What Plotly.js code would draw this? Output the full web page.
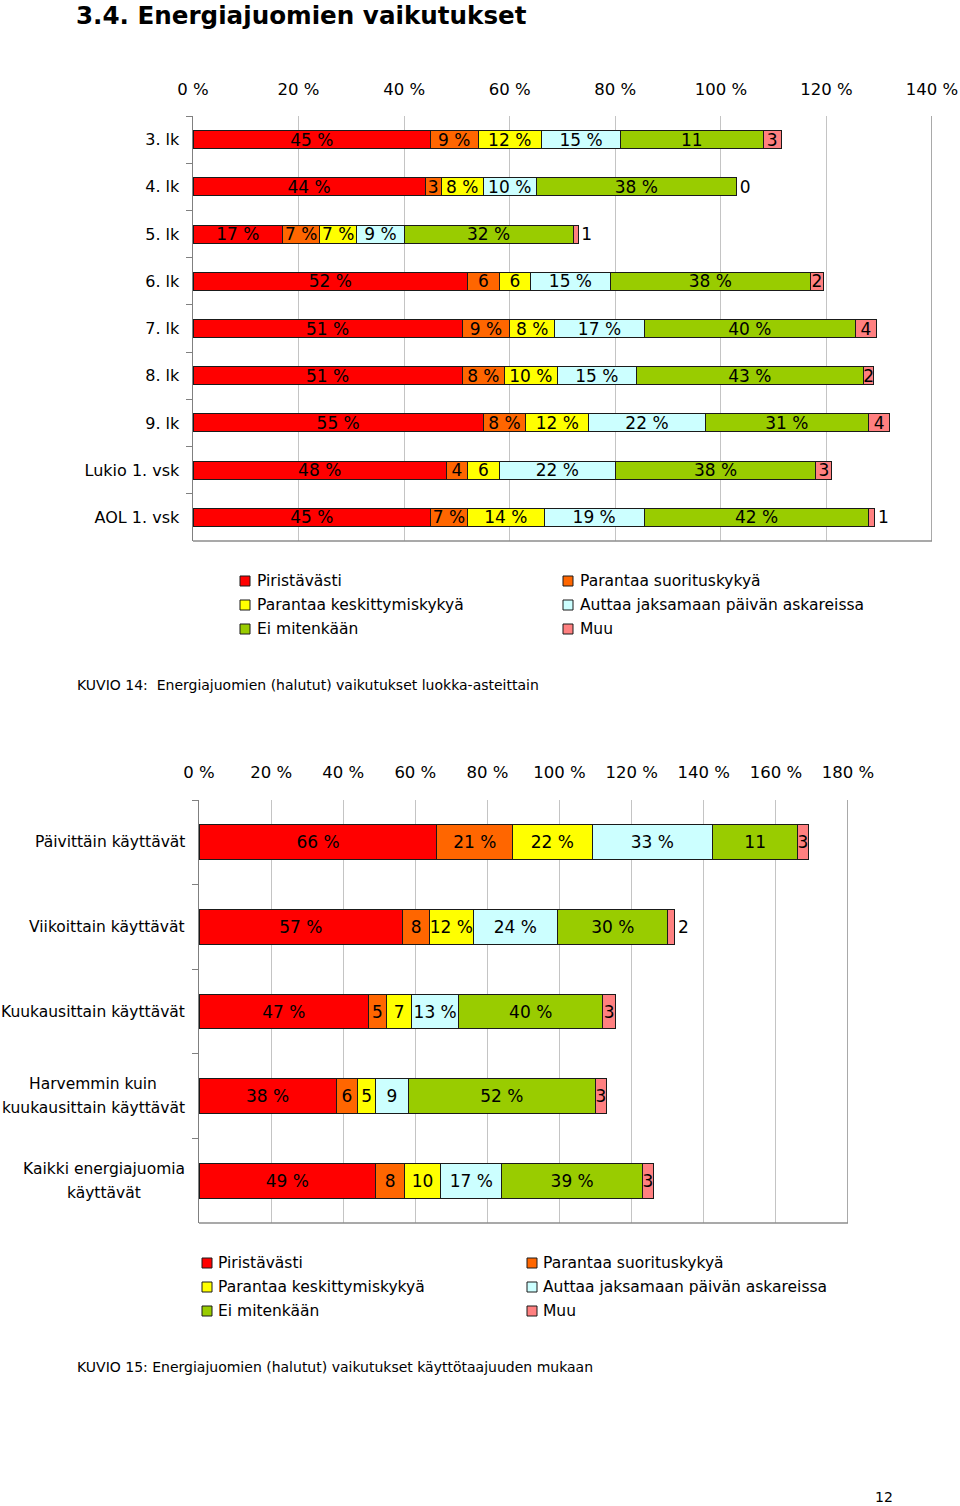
<!DOCTYPE html>
<html>
<head>
<meta charset="utf-8">
<script src="https://cdn.plot.ly/plotly-3.0.1.min.js"></script>
<style>html,body{margin:0;padding:0;background:#fff;}#chart{width:960px;height:1506px;}</style>
</head>
<body>
<div id="chart"></div>
<script>
// ---------- data ----------
const seriesNames = ["Piristävästi", "Parantaa suorituskykyä", "Parantaa keskittymiskykyä",
  "Auttaa jaksamaan päivän askareissa", "Ei mitenkään", "Muu"];
const seriesColors = ["#FF0000", "#FF6600", "#FFFF00", "#CCFFFF", "#99CC00", "#FF8080"];

// Chart 1: by grade
const gradeCats = ["3. lk", "4. lk", "5. lk", "6. lk", "7. lk", "8. lk", "9. lk", "Lukio 1. vsk", "AOL 1. vsk"];
const gradePiristavasti = [45, 44, 17, 52, 51, 51, 55, 48, 45];
const gradeSuorituskyky = [9, 3, 7, 6, 9, 8, 8, 4, 7];
const gradeKeskittyminen = [12, 8, 7, 6, 8.5, 10, 12, 6, 14.5];
const gradeJaksaminen = [15, 10, 9, 15, 17, 15, 22, 22, 19];
const gradeEiMitenkaan = [27, 38, 32, 38, 40, 43, 31, 38, 42.5];
const gradeMuu = [3.4, 0, 1, 2.4, 4, 2, 4, 3, 1.2];
const gradeLabPiristavasti = ["45 %", "44 %", "17 %", "52 %", "51 %", "51 %", "55 %", "48 %", "45 %"];
const gradeLabSuorituskyky = ["9 %", "3", "7 %", "6", "9 %", "8 %", "8 %", "4", "7 %"];
const gradeLabKeskittyminen = ["12 %", "8 %", "7 %", "6", "8 %", "10 %", "12 %", "6", "14 %"];
const gradeLabJaksaminen = ["15 %", "10 %", "9 %", "15 %", "17 %", "15 %", "22 %", "22 %", "19 %"];
const gradeLabEiMitenkaan = ["11", "38 %", "32 %", "38 %", "40 %", "43 %", "31 %", "38 %", "42 %"];
const gradeLabMuu = ["3", "0", "1", "2", "4", "2", "4", "3", "1"];
const gradeTicks = [0, 20, 40, 60, 80, 100, 120, 140];

// Chart 2: by frequency of use
const freqCats = ["Päivittäin käyttävät", "Viikoittain käyttävät", "Kuukausittain käyttävät",
  "Harvemmin kuin<br>kuukausittain käyttävät", "Kaikki energiajuomia<br>käyttävät"];
const freqPiristavasti = [66, 56.5, 47, 38, 49];
const freqSuorituskyky = [21, 7.5, 5, 6, 8];
const freqKeskittyminen = [22, 12, 7, 5, 10];
const freqJaksaminen = [33.5, 23.5, 13, 9, 17];
const freqEiMitenkaan = [23.5, 30.5, 40, 52, 39];
const freqMuu = [3, 2, 3.5, 3, 3];
const freqLabPiristavasti = ["66 %", "57 %", "47 %", "38 %", "49 %"];
const freqLabSuorituskyky = ["21 %", "8", "5", "6", "8"];
const freqLabKeskittyminen = ["22 %", "12 %", "7", "5", "10"];
const freqLabJaksaminen = ["33 %", "24 %", "13 %", "9", "17 %"];
const freqLabEiMitenkaan = ["11", "30 %", "40 %", "52 %", "39 %"];
const freqLabMuu = ["3", "2", "3", "3", "3"];
const freqTicks = [0, 20, 40, 60, 80, 100, 120, 140, 160, 180];

// ---------- helpers ----------
const FONT = "DejaVu Sans, Verdana, sans-serif";
const W = 960, H = 1506;
const px = v => v / W;
const py = v => 1 - v / H;

const measureCtx = document.createElement("canvas").getContext("2d");
function textWidth(str, size) {
  measureCtx.font = size + "px 'DejaVu Sans'";
  return measureCtx.measureText(str).width;
}

function makeTraces(cats, vals, labs, xa, ya, barWidth, pxPerUnit) {
  return seriesNames.map((name, i) => ({
    type: "bar", orientation: "h", name: name,
    x: vals[i], y: cats, xaxis: xa, yaxis: ya, width: barWidth,
    marker: {color: seriesColors[i], line: {color: "#1a1a1a", width: 1}},
    text: labs[i],
    textposition: i === seriesNames.length - 1
      ? vals[i].map(v => (v * pxPerUnit < 9 ? "outside" : "inside"))
      : "inside",
    insidetextanchor: "middle", textangle: 0, constraintext: "none", cliponaxis: false,
    textfont: {family: FONT, size: 17, color: "#000"},
    insidetextfont: {family: FONT, size: 17, color: "#000"},
    outsidetextfont: {family: FONT, size: 17, color: "#000"},
    showlegend: false, hoverinfo: "skip"
  }));
}

// chart geometry (pixels)
const c1 = {l: 193, r: 932, t: 116, b: 541, max: 140};
const c2 = {l: 199, r: 848, t: 800, b: 1223, max: 180};

const traces = [
  ...makeTraces(gradeCats,
    [gradePiristavasti, gradeSuorituskyky, gradeKeskittyminen, gradeJaksaminen, gradeEiMitenkaan, gradeMuu],
    [gradeLabPiristavasti, gradeLabSuorituskyky, gradeLabKeskittyminen, gradeLabJaksaminen, gradeLabEiMitenkaan, gradeLabMuu],
    "x", "y", 0.38, (c1.r - c1.l) / c1.max),
  ...makeTraces(freqCats,
    [freqPiristavasti, freqSuorituskyky, freqKeskittyminen, freqJaksaminen, freqEiMitenkaan, freqMuu],
    [freqLabPiristavasti, freqLabSuorituskyky, freqLabKeskittyminen, freqLabJaksaminen, freqLabEiMitenkaan, freqLabMuu],
    "x2", "y2", 0.41, (c2.r - c2.l) / c2.max)
];

const borderColor = "#8c8c8c";
const shapes = [];
[["x", "y", c1], ["x2", "y2", c2]].forEach(([xa, ya, c]) => {
  shapes.push({type: "line", xref: xa, yref: ya + " domain", x0: c.max, x1: c.max, y0: 0, y1: 1,
    line: {color: borderColor, width: 1.5}, layer: "above"});
  shapes.push({type: "line", xref: xa, yref: ya + " domain", x0: 0, x1: c.max, y0: 0, y1: 0,
    line: {color: borderColor, width: 1.5}, layer: "above"});
});

const annotations = [];
// manual legends
function addLegend(colX, rowY, textOff) {
  seriesNames.forEach((name, i) => {
    const cx = colX[i % 2], cy = rowY[Math.floor(i / 2)];
    shapes.push({type: "rect", xref: "paper", yref: "paper",
      x0: px(cx), x1: px(cx + 10), y0: py(cy + 5), y1: py(cy - 5),
      fillcolor: seriesColors[i], line: {color: "#1a1a1a", width: 1}});
    annotations.push({xref: "paper", yref: "paper", x: px(cx + textOff), y: py(cy),
      xanchor: "left", yanchor: "middle", showarrow: false, text: name,
      font: {family: FONT, size: 15.5, color: "#000"}});
  });
}
addLegend([240, 563], [581, 605, 629], 15);
addLegend([202, 527], [1263, 1287, 1311], 14);

// category labels for chart 2 (lines centred on each other, right edge at ~186px)
const labelRight = 185, labelSize = 15.5, labelLineGap = 24;
freqCats.forEach(c => {
  const lines = c.split("<br>");
  const maxW = Math.max(...lines.map(l => textWidth(l, labelSize)));
  const centre = labelRight - maxW / 2;
  lines.forEach((ln, k) => {
    const off = (k - (lines.length - 1) / 2) * labelLineGap;
    annotations.push({xref: "paper", yref: "y2", x: px(centre), y: c, yshift: -off,
      xanchor: "center", yanchor: "middle", showarrow: false, text: ln,
      font: {family: FONT, size: labelSize, color: "#000"}});
  });
});

// captions
annotations.push({xref: "paper", yref: "paper", x: px(75), y: py(685), xanchor: "left", yanchor: "middle",
  showarrow: false, text: "KUVIO 14:  Energiajuomien (halutut) vaikutukset luokka-asteittain",
  font: {family: FONT, size: 14, color: "#000"}});
annotations.push({xref: "paper", yref: "paper", x: px(75), y: py(1367), xanchor: "left", yanchor: "middle",
  showarrow: false, text: "KUVIO 15: Energiajuomien (halutut) vaikutukset käyttötaajuuden mukaan",
  font: {family: FONT, size: 14, color: "#000"}});
annotations.push({xref: "paper", yref: "paper", x: px(884), y: py(1497), xanchor: "center", yanchor: "middle",
  showarrow: false, text: "12", font: {family: FONT, size: 14, color: "#000"}});

const xTickFont = {family: FONT, size: 16.5, color: "#000"};
const layout = {
  width: W, height: H, autosize: false,
  margin: {l: 0, r: 0, t: 0, b: 0, pad: 0},
  paper_bgcolor: "#fff", plot_bgcolor: "#fff",
  barmode: "stack", showlegend: false,
  title: {text: "3.4. Energiajuomien vaikutukset", x: px(76), xanchor: "left", xref: "paper",
    y: py(15), yanchor: "middle", yref: "paper",
    font: {family: FONT, size: 24.6, weight: 700, color: "#000"}},
  xaxis: {domain: [px(c1.l), px(c1.r)], anchor: "y", side: "top", range: [0, c1.max],
    tickvals: gradeTicks, ticktext: gradeTicks.map(t => t + " %"),
    showgrid: true, gridcolor: "#c4c4c4", gridwidth: 1, zeroline: false, showline: false,
    ticks: "", ticklabelstandoff: 17, tickfont: xTickFont, fixedrange: true},
  yaxis: {domain: [py(c1.b), py(c1.t)], anchor: "x", type: "category",
    categoryorder: "array", categoryarray: gradeCats, autorange: "reversed",
    showline: true, linecolor: "#808080", linewidth: 1.5,
    ticks: "outside", tickson: "boundaries", ticklen: 6, tickcolor: "#808080",
    ticklabelstandoff: 9, showgrid: false, tickfont: {family: FONT, size: 16, color: "#000"}},
  xaxis2: {domain: [px(c2.l), px(c2.r)], anchor: "y2", side: "top", range: [0, c2.max],
    tickvals: freqTicks, ticktext: freqTicks.map(t => t + " %"),
    showgrid: true, gridcolor: "#c4c4c4", gridwidth: 1, zeroline: false, showline: false,
    ticks: "", ticklabelstandoff: 18, tickfont: xTickFont, fixedrange: true},
  yaxis2: {domain: [py(c2.b), py(c2.t)], anchor: "x2", type: "category",
    categoryorder: "array", categoryarray: freqCats, autorange: "reversed",
    showline: true, linecolor: "#808080", linewidth: 1.5,
    ticks: "outside", tickson: "boundaries", ticklen: 6, tickcolor: "#808080",
    showticklabels: false, showgrid: false},
  shapes: shapes,
  annotations: annotations
};

Plotly.newPlot("chart", traces, layout, {staticPlot: true, displayModeBar: false});
</script>
</body>
</html>
